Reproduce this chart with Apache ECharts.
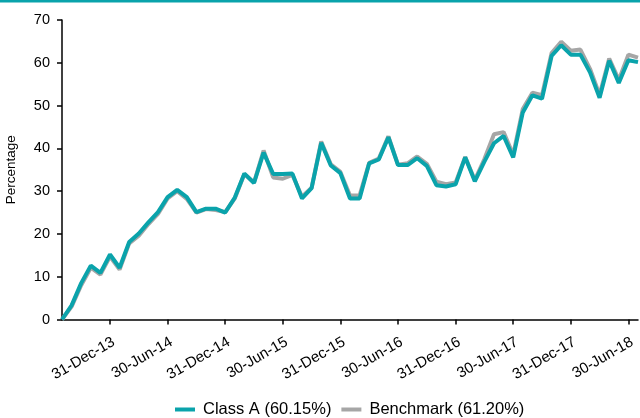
<!DOCTYPE html>
<html>
<head>
<meta charset="utf-8">
<script src="https://cdn.jsdelivr.net/npm/echarts@6/dist/echarts.min.js"></script>
<style>
  html, body { margin: 0; padding: 0; background: #fff; }
  #chart { width: 640px; height: 418px; }
</style>
</head>
<body>
<div id="chart"></div>
<script>
// month-end dates, Jul-13 to Jul-18
const months = [
  "31-Jul-13", "31-Aug-13", "30-Sep-13", "31-Oct-13", "30-Nov-13", "31-Dec-13",
  "31-Jan-14", "28-Feb-14", "31-Mar-14", "30-Apr-14", "31-May-14", "30-Jun-14",
  "31-Jul-14", "31-Aug-14", "30-Sep-14", "31-Oct-14", "30-Nov-14", "31-Dec-14",
  "31-Jan-15", "28-Feb-15", "31-Mar-15", "30-Apr-15", "31-May-15", "30-Jun-15",
  "31-Jul-15", "31-Aug-15", "30-Sep-15", "31-Oct-15", "30-Nov-15", "31-Dec-15",
  "31-Jan-16", "29-Feb-16", "31-Mar-16", "30-Apr-16", "31-May-16", "30-Jun-16",
  "31-Jul-16", "31-Aug-16", "30-Sep-16", "31-Oct-16", "30-Nov-16", "31-Dec-16",
  "31-Jan-17", "28-Feb-17", "31-Mar-17", "30-Apr-17", "31-May-17", "30-Jun-17",
  "31-Jul-17", "31-Aug-17", "30-Sep-17", "31-Oct-17", "30-Nov-17", "31-Dec-17",
  "31-Jan-18", "28-Feb-18", "31-Mar-18", "30-Apr-18", "31-May-18", "30-Jun-18",
  "31-Jul-18"
];

// labelled ticks on the x axis
const tickLabels = ["31-Dec-13", "30-Jun-14", "31-Dec-14", "30-Jun-15", "31-Dec-15",
  "30-Jun-16", "31-Dec-16", "30-Jun-17", "31-Dec-17", "30-Jun-18"];

const classA = [
  0, 3.3, 8.5, 12.6, 10.9, 15.2, 12.1, 18.1, 20.1, 22.7, 25.1, 28.6,
  30.3, 28.6, 25.1, 25.9, 25.9, 25.0, 28.5, 34.1, 31.9, 39.0, 34.0, 34.0,
  34.1, 28.3, 30.7, 41.3, 36.0, 34.2, 28.3, 28.3, 36.5, 37.4, 42.6, 36.1,
  36.1, 37.7, 35.9, 31.4, 31.1, 31.6, 37.9, 32.3, 36.9, 41.2, 42.9, 37.9,
  48.4, 52.4, 51.6, 61.6, 64.1, 61.9, 61.9, 57.8, 51.8, 60.5, 55.3, 60.6,
  60.15
];

const benchmark = [
  0, 3.0, 8.0, 12.1, 10.5, 14.7, 11.7, 17.8, 19.6, 22.3, 24.7, 28.3,
  30.0, 28.2, 25.0, 25.8, 25.6, 25.1, 28.3, 34.0, 32.0, 39.5, 33.2, 32.9,
  33.8, 28.7, 30.8, 41.6, 36.3, 34.5, 29.0, 29.0, 36.6, 37.6, 42.8, 36.2,
  36.5, 38.1, 36.4, 32.2, 31.6, 32.0, 38.0, 32.6, 37.5, 43.3, 43.8, 38.5,
  49.2, 53.0, 52.4, 62.3, 64.9, 62.8, 63.1, 58.6, 52.5, 61.0, 56.0, 61.9,
  61.2
];

const seriesNames = ["Class A (60.15%)", "Benchmark (61.20%)"];

const TEAL = "#0aa3ab";
const GREY = "#a6a6a6";
const FONT = "Liberation Sans, Arial, sans-serif";

const showTick = (i, v) => tickLabels.includes(v);

const chart = echarts.init(document.getElementById("chart"));
chart.setOption({
  animation: false,
  textStyle: { fontFamily: FONT },
  graphic: [{
    type: "rect",
    shape: { x: 0, y: 0, width: 640, height: 2.5 },
    style: { fill: TEAL },
  }],
  grid: { left: 62, right: 2, top: 20, bottom: 98.5, outerBoundsMode: "none" },
  legend: {
    top: 401,
    left: 175,
    padding: 0,
    itemWidth: 20,
    itemHeight: 4,
    itemGap: 10,
    icon: "rect",
    textStyle: { color: "#000", fontSize: 16.5, fontFamily: FONT, padding: [0, 0, 0, 3] },
    data: [
      { name: seriesNames[0], itemStyle: { color: TEAL } },
      { name: seriesNames[1], itemStyle: { color: GREY } },
    ],
  },
  xAxis: {
    type: "category",
    boundaryGap: false,
    data: months,
    axisLine: { lineStyle: { color: "#000", width: 1.5 } },
    axisTick: { interval: showTick, length: 5, lineStyle: { color: "#000", width: 1.5 } },
    axisLabel: {
      interval: showTick,
      rotate: 30,
      margin: 15,
      verticalAlign: "top",
      color: "#000",
      fontSize: 15,
      fontFamily: FONT,
    },
  },
  yAxis: {
    type: "value",
    min: 0,
    max: 70,
    interval: 10,
    name: "Percentage",
    nameLocation: "middle",
    nameGap: 44,
    nameTextStyle: { color: "#000", fontSize: 13.5, fontFamily: FONT },
    axisLine: { show: true, lineStyle: { color: "#000", width: 1.5 } },
    axisTick: { show: true, length: 5, lineStyle: { color: "#000", width: 1.5 } },
    axisLabel: { color: "#000", fontSize: 14.5, margin: 12, fontFamily: FONT },
    splitLine: { show: false },
  },
  series: [
    {
      name: seriesNames[1],
      type: "line",
      data: benchmark,
      symbol: "none",
      z: 2,
      lineStyle: { color: GREY, width: 4 },
      itemStyle: { color: GREY },
    },
    {
      name: seriesNames[0],
      type: "line",
      data: classA,
      symbol: "none",
      z: 3,
      lineStyle: { color: TEAL, width: 4 },
      itemStyle: { color: TEAL },
    },
  ],
});
</script>
</body>
</html>
